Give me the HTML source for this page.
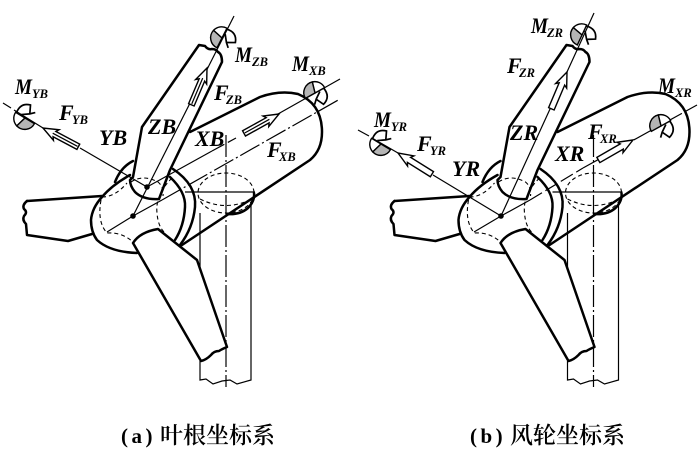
<!DOCTYPE html>
<html><head><meta charset="utf-8">
<style>
html,body{margin:0;padding:0;background:#fff}
svg{display:block}
.l{font-family:"Liberation Serif",serif;font-weight:bold;font-style:italic;fill:#000}
.m{font-size:22px}.s{font-size:12.5px}.a{font-size:22px}
.c{font-family:"Liberation Serif","Noto Serif CJK SC",serif;font-size:23px;font-weight:600;fill:#000}
.p{font-weight:bold;font-size:21px;letter-spacing:3.5px}
.t{fill:none;stroke:#000;stroke-width:2.5;stroke-linejoin:round;stroke-linecap:round}
.w{fill:#fff;stroke:#000;stroke-width:2.5;stroke-linejoin:round}
.n{fill:none;stroke:#000;stroke-width:1.2}
.d{fill:none;stroke:#000;stroke-width:1.1;stroke-dasharray:4 3}
.ax{fill:none;stroke:#000;stroke-width:1.2;stroke-dasharray:22 3 2 3}
</style></head>
<body>
<svg width="700" height="460" viewBox="0 0 700 460" xmlns="http://www.w3.org/2000/svg">
<defs>
<g id="tb">
  <!-- tower -->
  <path class="n" d="M200,213V343M200,361V380L206,379L213,384L222,381L230,380L237,384L251,380V203"/>
  <path class="ax" d="M226,135V387"/>
  <ellipse class="d" cx="226" cy="193" rx="28" ry="20"/>
  <path class="d" d="M200,199Q226,212 252,199"/>
  <path class="n" d="M185,192H255"/>
  <!-- nacelle -->
  <path class="t" d="M227,214Q240,215 248,208Q255,201 254,193"/>
  <path class="t" d="M190,132L260,97Q280,90 298,94Q322,104 322,132Q322,150 310,160L182,245"/>
  <path class="t" d="M173,169Q197,185 195,207Q193,228 180,245"/>
  <path class="t" d="M170,177Q186,192 185,207Q184,226 175,240"/>
  <!-- hub -->
  <path class="t" d="M115,182Q121,167 133,161"/>
  <path class="t" d="M27,201L102,196"/>
  <path class="t" d="M27,201Q22,205 24,209Q28,212 24,216Q22,220 26,224L27,235L68,241L92,234"/>
  <path class="t" d="M130,175Q112,185 102,197Q92,208 91,220Q91,232 97,240Q110,252 137,253"/>
  <path class="d" d="M102,197Q115,197 127,183M101,200Q97,222 107,233Q122,232 133,242"/>
  <path class="d" d="M172,178Q155,195 157,213Q158,226 164,232"/>
  <!-- lower blade -->
  <path class="w" d="M133,243Q140,232 158,229L197,260L227,347Q222,349 219,351Q214,351 211,355Q206,360 201,361Z"/>
  <!-- upper blade -->
  <path class="w" d="M133,177L142,127L199,45L205,46Q208,50 212,49Q216,49 218,52Q222,54 222,62L170,170L159,199Q143,200 135,192Q130,186 130,180Z"/>
  <path class="d" d="M131,182Q143,174 158,182Q164,187 163,196"/>
</g>
<g id="ar1">
  <path fill="#fff" stroke="#000" stroke-width="1.4" d="M0,0L-15,-6L-13,-3H-40V3H-13L-15,6Z"/>
  <path class="n" d="M-39,0H-11"/>
</g>
<g id="ar2">
  <path fill="#fff" stroke="#000" stroke-width="1.4" d="M0,0L-15,-6L-13,-3H-40V3H-13L-15,6Z"/>
</g>
<!-- moment symbol: axis along +x, gray sector behind-left, hook on +y side -->
<g id="mo">
  <path fill="#fff" stroke="#000" stroke-width="1.4" d="M3,-11A11,11 0 0 1 11,0L0,0Z"/>
  <path fill="#b5b5b5" stroke="#000" stroke-width="1.4" d="M-11,0A11,11 0 0 1 3,-11L0,0Z"/>
  <path fill="none" stroke="#000" stroke-width="1.7" d="M10,0Q12,11 2,14L-2,6"/>
  <path fill="none" stroke="#000" stroke-width="1.7" d="M5,1L-2,6L-6,10"/>
</g>
</defs>

<!-- left panel -->
<use href="#tb"/>
<path class="n" d="M133,216L234,16"/>
<path class="n" d="M107,232L133,216L162,200"/>
<path class="ax" d="M162,200L340,99"/>
<path class="n" d="M147,187L212,151"/>
<path class="n" d="M212,151L236,138" stroke-dasharray="14 4"/>
<path class="n" d="M262,123L340,79"/>
<path class="n" d="M147,187L80,148"/>
<path class="n" d="M43,128L14,110M11,108L3,103"/>
<circle cx="133" cy="216" r="2.8" fill="#000"/>
<circle cx="147" cy="187" r="2.8" fill="#000"/>
<use href="#ar1" transform="translate(207,68) rotate(-67)"/>
<use href="#ar1" transform="translate(279,114) rotate(-29)"/>
<use href="#ar1" transform="translate(43,128) rotate(208)"/>
<use href="#mo" transform="translate(222,38) rotate(-63)"/>
<use href="#mo" transform="translate(315,93) rotate(-29)"/>
<use href="#mo" transform="translate(25,118) rotate(211)"/>

<!-- right panel -->
<use href="#tb" transform="translate(367.5,0)"/>
<path class="n" d="M501,216L594,13"/>
<path class="n" d="M474,232L501,216L530,200"/>
<path class="n" d="M530,200L583,168" stroke-dasharray="14 4"/>
<path class="n" d="M583,168L697,105" stroke-dasharray="26 3"/>
<path class="n" d="M501,216L433,175"/>
<path class="n" d="M398,153L372,138M369,136L358,130"/>
<circle cx="501" cy="216" r="2.8" fill="#000"/>
<use href="#ar2" transform="translate(567,72) rotate(-67)"/>
<use href="#ar2" transform="translate(633,140) rotate(-30)"/>
<use href="#ar2" transform="translate(398,153) rotate(212)"/>
<use href="#mo" transform="translate(582,35) rotate(-65)"/>
<use href="#mo" transform="translate(661,126) rotate(-29)"/>
<use href="#mo" transform="translate(381,144) rotate(211)"/>

<!-- labels left -->
<text class="l m" x="15" y="94" textLength="17" lengthAdjust="spacingAndGlyphs">M</text><text class="l s" x="32" y="98">YB</text>
<text class="l m" x="59" y="120">F</text><text class="l s" x="72" y="124">YB</text>
<text class="l a" x="99" y="145">YB</text>
<text class="l a" x="148" y="134">ZB</text>
<text class="l a" x="195" y="146">XB</text>
<text class="l m" x="214" y="100">F</text><text class="l s" x="226" y="104">ZB</text>
<text class="l m" x="235" y="62" textLength="17" lengthAdjust="spacingAndGlyphs">M</text><text class="l s" x="252" y="66">ZB</text>
<text class="l m" x="292" y="71" textLength="17" lengthAdjust="spacingAndGlyphs">M</text><text class="l s" x="309" y="75">XB</text>
<text class="l m" x="267" y="157">F</text><text class="l s" x="279" y="161">XB</text>
<!-- labels right -->
<text class="l m" x="531" y="33" textLength="17" lengthAdjust="spacingAndGlyphs">M</text><text class="l s" x="547" y="37">ZR</text>
<text class="l m" x="507" y="73">F</text><text class="l s" x="519" y="77">ZR</text>
<text class="l m" x="658" y="93" textLength="17" lengthAdjust="spacingAndGlyphs">M</text><text class="l s" x="675" y="97">XR</text>
<text class="l m" x="588" y="139">F</text><text class="l s" x="600" y="143">XR</text>
<text class="l a" x="555" y="161">XR</text>
<text class="l a" x="510" y="140">ZR</text>
<text class="l a" x="452" y="176">YR</text>
<text class="l m" x="417" y="151">F</text><text class="l s" x="430" y="155">YR</text>
<text class="l m" x="374" y="127" textLength="17" lengthAdjust="spacingAndGlyphs">M</text><text class="l s" x="391" y="131">YR</text>

<text class="c p" x="121" y="443">(a)</text>
<text class="c" x="160" y="443">叶根坐标系</text>
<text class="c p" x="470" y="443">(b)</text>
<text class="c" x="510" y="443">风轮坐标系</text>
</svg>
</body></html>
